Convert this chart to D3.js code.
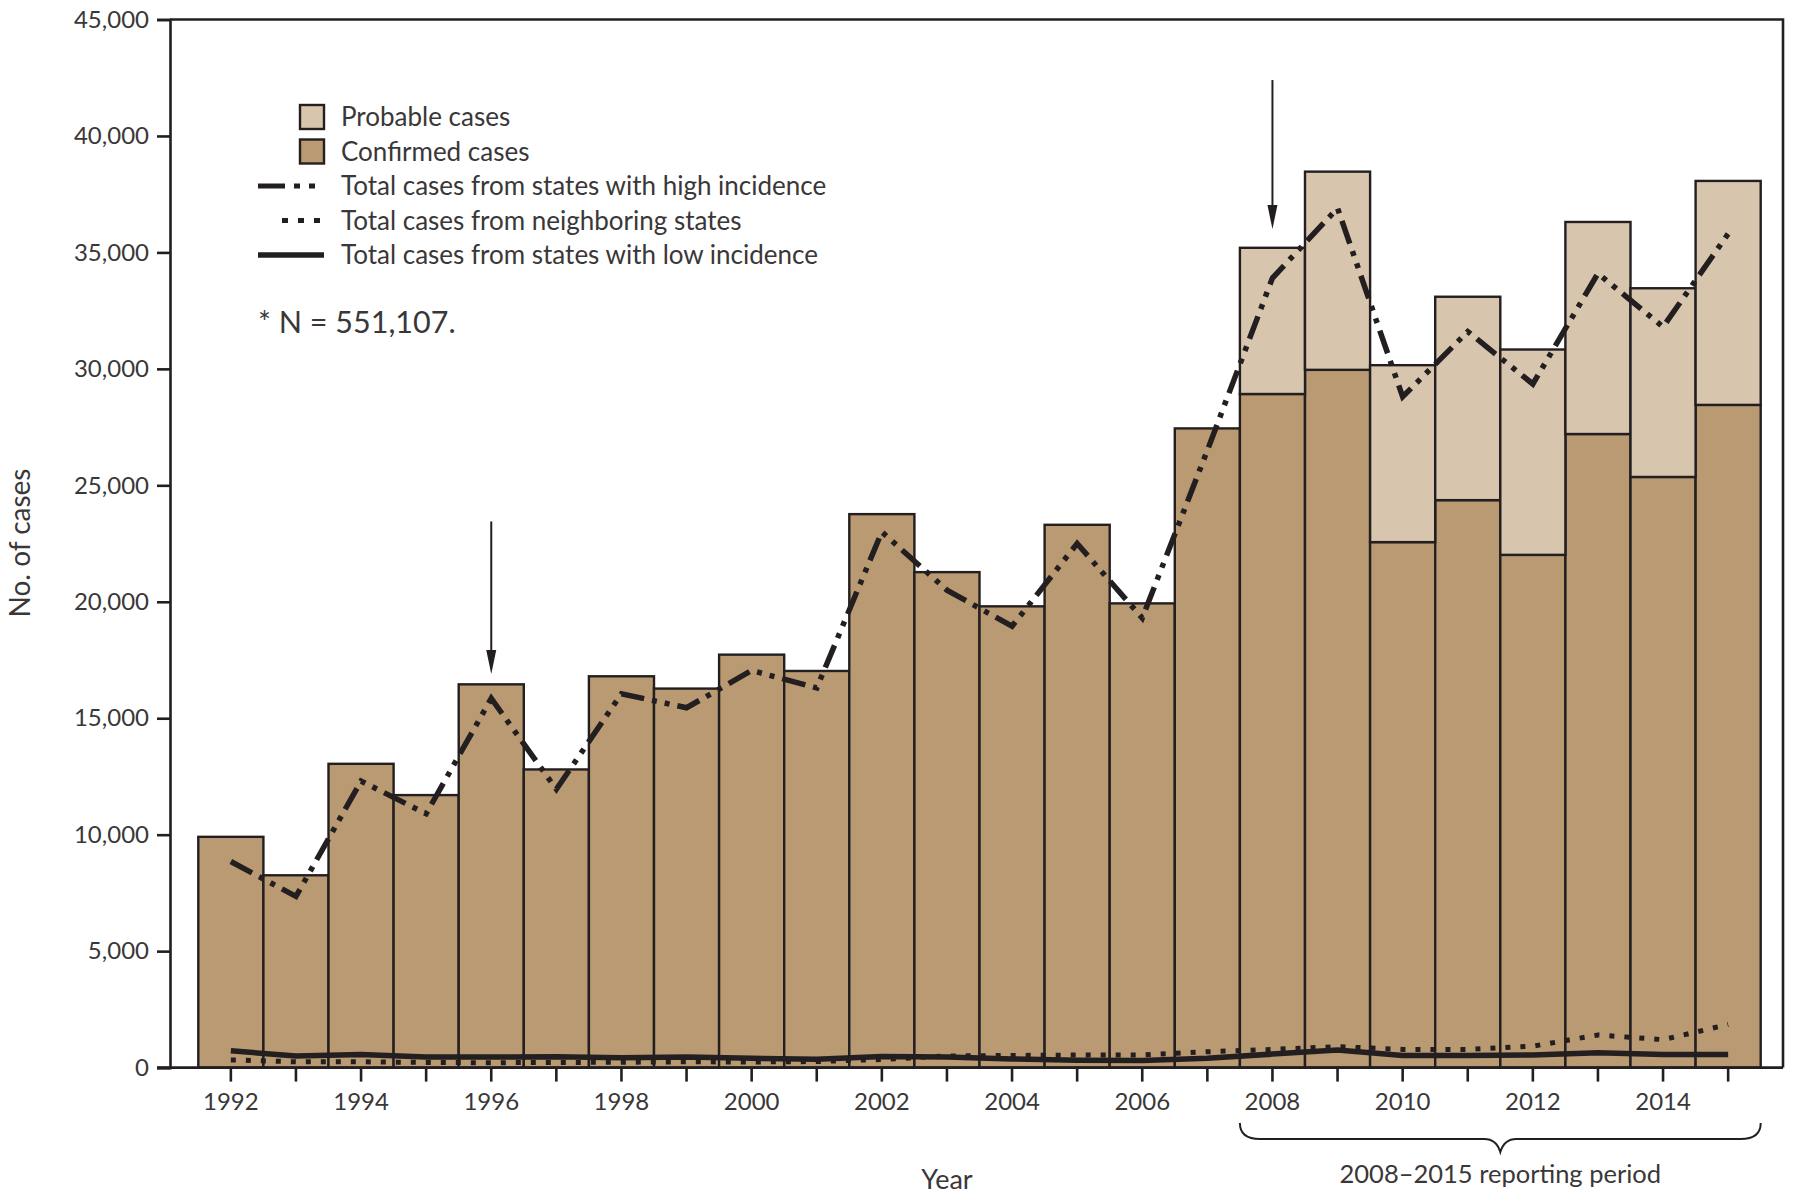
<!DOCTYPE html>
<html>
<head>
<meta charset="utf-8">
<script src="https://cdn.jsdelivr.net/npm/d3@7"></script>
<style>
  html, body { margin: 0; padding: 0; background: #ffffff; }
  svg { display: block; font-family: Lato, "Noto Sans", sans-serif; }
</style>
</head>
<body>
<svg id="chart" width="1800" height="1197"></svg>
<script>
// ---------------- DATA ----------------
const years = [1992,1993,1994,1995,1996,1997,1998,1999,2000,2001,2002,2003,2004,2005,2006,2007,2008,2009,2010,2011,2012,2013,2014,2015];
const confirmedCases = [9908,8257,13043,11700,16455,12801,16801,16273,17730,17029,23763,21273,19804,23305,19931,27444,28921,29959,22561,24364,22014,27203,25359,28453];
const probableCases  = [0,0,0,0,0,0,0,0,0,0,0,0,0,0,0,0,6277,8509,7597,8733,8817,9104,8102,9616];
const highIncidence  = [8850,7350,12300,10900,15850,11950,16050,15450,17050,16300,23000,20500,18950,22500,19300,26500,33900,36900,28800,31600,29350,34100,31800,35800];
const neighboring    = [330,250,250,220,210,220,230,250,240,260,350,500,520,540,540,680,780,900,780,780,920,1400,1200,1850];
const lowIncidence   = [720,500,560,460,450,470,420,450,400,360,480,450,370,320,300,400,580,760,520,520,540,640,560,560];
const yTicks = [0,5000,10000,15000,20000,25000,30000,35000,40000,45000];
const xTickLabels = [1992,1994,1996,1998,2000,2002,2004,2006,2008,2010,2012,2014];
const arrows = [ {year: 1996, from: 23450, to: 16900}, {year: 2008, from: 42400, to: 36000} ];
const bracePeriod = {start: 2008, end: 2015, label: "2008\u20132015 reporting period"};
const legendItems = ["Probable cases","Confirmed cases","Total cases from states with high incidence","Total cases from neighboring states","Total cases from states with low incidence"];
const noteText = "* N = 551,107.";

// ---------------- LAYOUT ----------------
const ink = "#231f20";
const textInk = "#3a3738";
const confirmedFill = "#b99a73";
const probableFill = "#d8c5ad";
const plot = {left: 170, top: 19.5, right: 1783, bottom: 1067.6};

const svg = d3.select("#chart");

const x = d3.scaleBand().domain(years).range([198.3, 1760.7]).paddingInner(0).paddingOuter(0);
const xc = d => x(d) + x.bandwidth() / 2;
const y = d3.scaleLinear().domain([0, 45000]).range([plot.bottom, plot.top]);

const rows = years.map((yr, i) => ({year: yr, conf: confirmedCases[i], prob: probableCases[i]}));

// bars
const gBars = svg.append("g");
gBars.selectAll("rect.conf").data(rows).join("rect")
  .attr("class", "conf")
  .attr("x", d => x(d.year)).attr("width", x.bandwidth())
  .attr("y", d => y(d.conf)).attr("height", d => y(0) - y(d.conf))
  .attr("fill", confirmedFill).attr("stroke", ink).attr("stroke-width", 2.4);
gBars.selectAll("rect.prob").data(rows.filter(d => d.prob > 0)).join("rect")
  .attr("class", "prob")
  .attr("x", d => x(d.year)).attr("width", x.bandwidth())
  .attr("y", d => y(d.conf + d.prob)).attr("height", d => y(d.conf) - y(d.conf + d.prob))
  .attr("fill", probableFill).attr("stroke", ink).attr("stroke-width", 2.4);

// lines
const lineGen = d3.line().x((d, i) => xc(years[i])).y(d => y(d));
const dashDot = "24,8,5,8,5,8";
const dotted = "5,10";
svg.append("path").datum(lowIncidence).attr("d", lineGen)
  .attr("fill", "none").attr("stroke", ink).attr("stroke-width", 5.5);
svg.append("path").datum(neighboring).attr("d", lineGen)
  .attr("fill", "none").attr("stroke", ink).attr("stroke-width", 5).attr("stroke-dasharray", dotted);
svg.append("path").datum(highIncidence).attr("d", lineGen)
  .attr("fill", "none").attr("stroke", ink).attr("stroke-width", 5.5).attr("stroke-dasharray", dashDot);

// frame (top, right)
svg.append("path")
  .attr("d", `M${plot.left},${plot.top}H${plot.right}V${plot.bottom}`)
  .attr("fill", "none").attr("stroke", ink).attr("stroke-width", 2.6);

// y axis
const yAxis = d3.axisLeft(y).tickValues(yTicks).tickSize(13).tickPadding(8)
  .tickFormat(d => d === 0 ? "0" : d3.format(",")(d));
const gy = svg.append("g").attr("transform", `translate(${plot.left},0)`).call(yAxis);
gy.select(".domain").attr("stroke", ink).attr("stroke-width", 2.6);
gy.selectAll(".tick line").attr("stroke", ink).attr("stroke-width", 2.6);
gy.selectAll(".tick text").attr("fill", textInk).attr("font-size", 24).attr("font-family", "Lato, sans-serif");

// x axis
const xAxis = d3.axisBottom(x).tickValues(years).tickSize(14).tickPadding(8)
  .tickFormat(d => xTickLabels.includes(d) ? String(d) : "");
const gx = svg.append("g").attr("transform", `translate(0,${plot.bottom})`).call(xAxis);
gx.select(".domain").attr("d", `M${plot.left - 13},0H${plot.right}`).attr("stroke", ink).attr("stroke-width", 2.6);
gx.selectAll(".tick line").attr("stroke", ink).attr("stroke-width", 2.6);
gx.selectAll(".tick text").attr("fill", textInk).attr("font-size", 24).attr("font-family", "Lato, sans-serif").attr("dy", "0.85em");

// axis titles
svg.append("text").attr("transform", `translate(30,543) rotate(-90)`)
  .attr("text-anchor", "middle").attr("font-size", 28).attr("fill", textInk).text("No. of cases");
svg.append("text").attr("x", 947).attr("y", 1189)
  .attr("text-anchor", "middle").attr("font-size", 27).attr("fill", textInk).text("Year");

// arrows
svg.selectAll("line.arrow").data(arrows).join("line")
  .attr("class", "arrow")
  .attr("x1", d => xc(d.year)).attr("x2", d => xc(d.year))
  .attr("y1", d => y(d.from)).attr("y2", d => y(d.to) - 22)
  .attr("stroke", ink).attr("stroke-width", 2);
svg.selectAll("path.arrowhead").data(arrows).join("path")
  .attr("class", "arrowhead")
  .attr("d", d => `M${xc(d.year) - 5},${y(d.to) - 24}L${xc(d.year)},${y(d.to)}L${xc(d.year) + 5},${y(d.to) - 24}Z`)
  .attr("fill", ink);

// brace
const bx0 = x(bracePeriod.start), bx1 = x(bracePeriod.end) + x.bandwidth();
const bmid = (bx0 + bx1) / 2;
const by0 = 1123, by1 = 1139, by2 = 1152;
svg.append("path")
  .attr("d", `M${bx0},${by0} Q${bx0},${by1} ${bx0 + 20},${by1} L${bmid - 16},${by1} Q${bmid - 4},${by1} ${bmid},${by2} Q${bmid + 4},${by1} ${bmid + 16},${by1} L${bx1 - 20},${by1} Q${bx1},${by1} ${bx1},${by0}`)
  .attr("fill", "none").attr("stroke", ink).attr("stroke-width", 2);
svg.append("text").attr("x", bmid).attr("y", 1183).attr("text-anchor", "middle")
  .attr("font-size", 25.5).attr("fill", textInk).text(bracePeriod.label);

// legend
const lg = svg.append("g");
const lgTextX = 341;
const rowY = [117, 151.5, 186, 220.4, 254.9];
lg.append("rect").attr("x", 300).attr("y", rowY[0] - 12).attr("width", 24).attr("height", 24)
  .attr("fill", probableFill).attr("stroke", ink).attr("stroke-width", 2.4);
lg.append("rect").attr("x", 300).attr("y", rowY[1] - 12).attr("width", 24).attr("height", 24)
  .attr("fill", confirmedFill).attr("stroke", ink).attr("stroke-width", 2.4);
lg.append("line").attr("x1", 258).attr("x2", 324).attr("y1", rowY[2]).attr("y2", rowY[2])
  .attr("stroke", ink).attr("stroke-width", 5).attr("stroke-dasharray", "27,9,6,9,6,20");
lg.append("line").attr("x1", 282).attr("x2", 324).attr("y1", rowY[3]).attr("y2", rowY[3])
  .attr("stroke", ink).attr("stroke-width", 5).attr("stroke-dasharray", "6,10");
lg.append("line").attr("x1", 258).attr("x2", 324).attr("y1", rowY[4]).attr("y2", rowY[4])
  .attr("stroke", ink).attr("stroke-width", 5.5);
lg.selectAll("text").data(legendItems).join("text")
  .attr("x", lgTextX).attr("y", (d, i) => rowY[i]).attr("dy", "0.35em")
  .attr("font-size", 26).attr("fill", textInk).text(d => d);

svg.append("text").attr("x", 258).attr("y", 333).attr("font-size", 30.5).attr("fill", textInk).text(noteText);
</script>
</body>
</html>
